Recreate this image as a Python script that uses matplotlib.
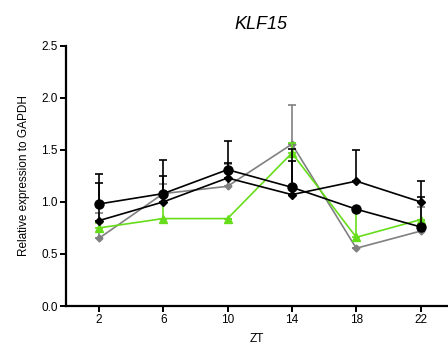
import matplotlib
matplotlib.use("Agg")
import matplotlib.pyplot as plt
import numpy as np

plt.rcParams['font.family'] = ['Liberation Sans', 'DejaVu Sans']

zt = [2, 6, 10, 14, 18, 22]

# series values and upper error bars
circle_vals = [0.98, 1.08, 1.31, 1.14, 0.93, 0.76]
circle_err = [0.285, 0.32, 0.275, 0.25, 0.0, 0.29]
bdiam_vals = [0.82, 1.00, 1.23, 1.07, 1.20, 1.00]
bdiam_err = [0.36, 0.25, 0.14, 0.44, 0.30, 0.20]
green_vals = [0.75, 0.84, 0.84, 1.47, 0.66, 0.83]
green_err = [0.05, 0.23, 0.0, 0.10, 0.25, 0.0]
gray_vals = [0.65, 1.08, 1.15, 1.555, 0.555, 0.72]
gray_err = [0.24, 0.09, 0.21, 0.375, 0.0, 0.235]

yticks = [0.0, 0.5, 1.0, 1.5, 2.0, 2.5]

fig = plt.figure(figsize=(4.48, 3.55), dpi=100)
ax = fig.add_axes([0.147, 0.138, 0.853, 0.733])

def draw(vals, err, color, marker, ms, z):
    vals = np.array(vals)
    err = np.array(err)
    ax.errorbar(zt, vals, yerr=[np.zeros_like(err), err], color=color,
                marker=marker, markersize=ms, linewidth=1.2, elinewidth=1.2,
                capsize=3, capthick=1.2, zorder=z)

draw(gray_vals, gray_err, '#808080', 'D', 3.5, 2)
draw(green_vals, green_err, '#66dd1a', '^', 5.5, 3)
draw(bdiam_vals, bdiam_err, 'black', 'D', 4.5, 4)
draw(circle_vals, circle_err, 'black', 'o', 6.5, 5)

ax.set_xlim(-0.05, 23.7)
ax.set_ylim(0, 2.5)
ax.set_xticks(zt)
ax.set_yticks(yticks)
ax.set_yticklabels([f"{v:.1f}" for v in yticks])
ax.spines['top'].set_visible(False)
ax.spines['right'].set_visible(False)
ax.spines['left'].set_linewidth(1.6)
ax.spines['bottom'].set_linewidth(1.6)
ax.tick_params(axis='both', direction='out', length=4, width=1.4, labelsize=8.5, pad=2)
ax.set_xlabel('ZT', fontsize=8.5, labelpad=5)
ax.set_ylabel('Relative expression to GAPDH', fontsize=8.5, labelpad=8)
ax.set_title('KLF15', fontsize=13, style='italic', pad=12, x=0.51)

fig.savefig('out.png', dpi=100)
